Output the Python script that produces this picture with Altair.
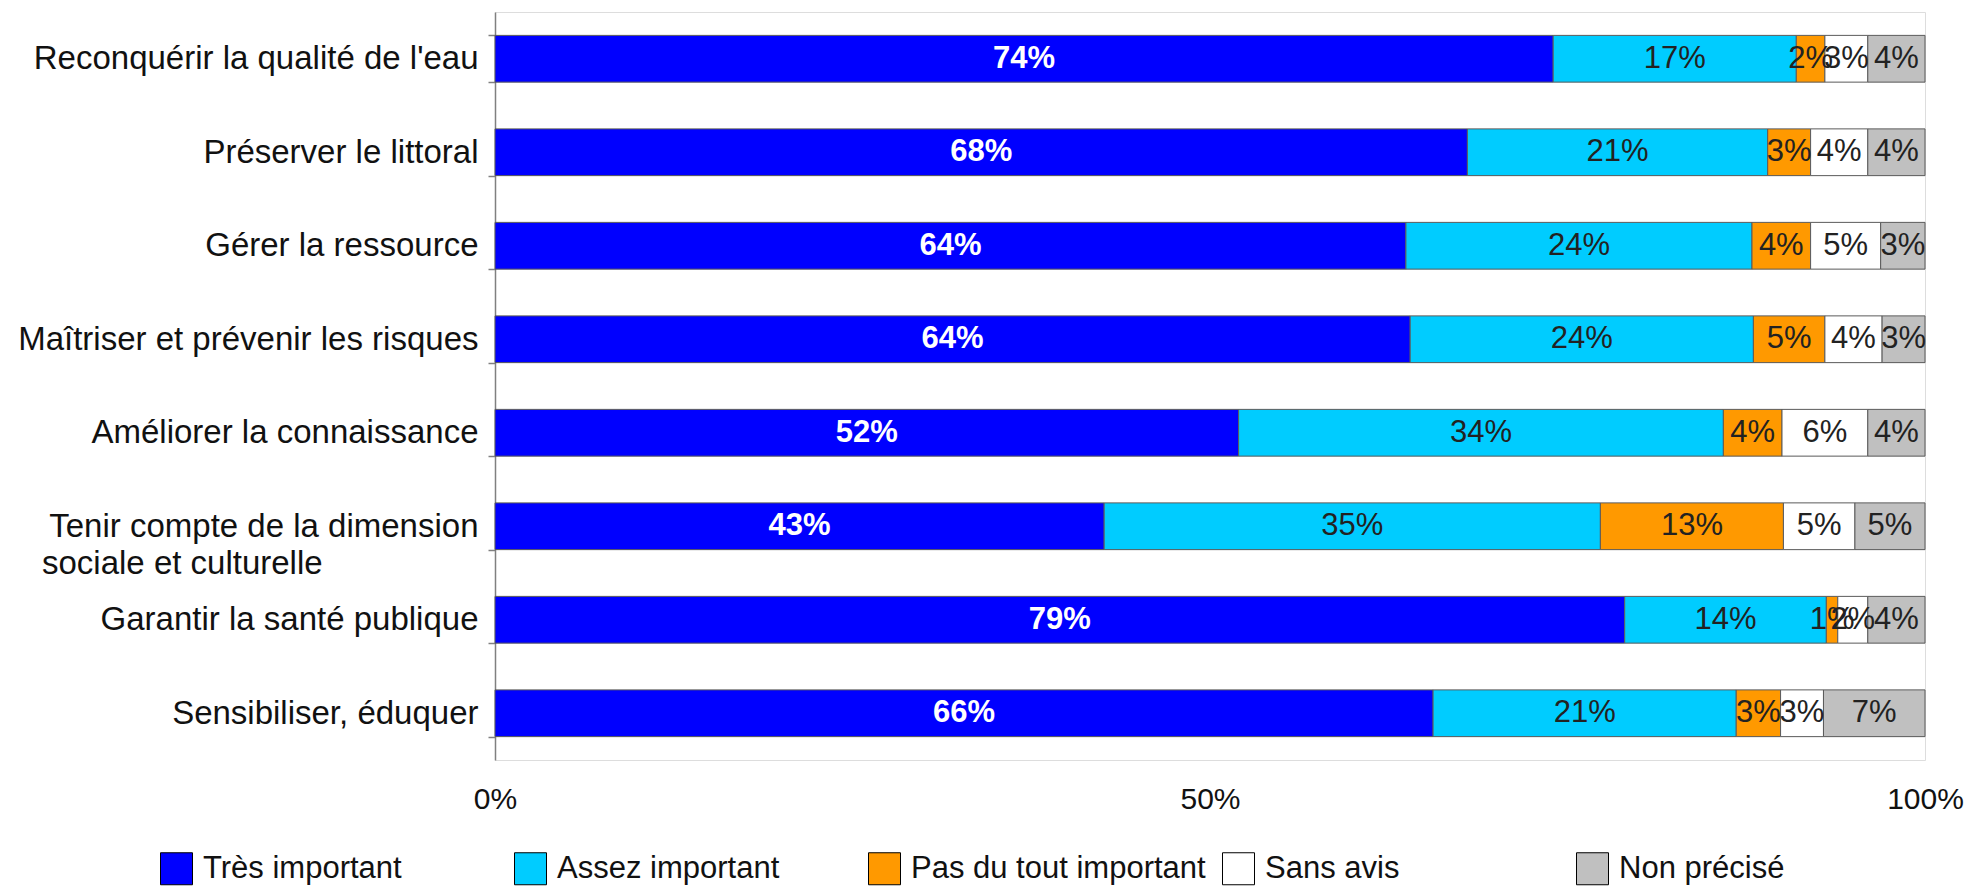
import altair as alt
import pandas as pd

categories = [
    "Reconquérir la qualité de l'eau",
    "Préserver le littoral",
    "Gérer la ressource",
    "Maîtriser et prévenir les risques",
    "Améliorer la connaissance",
    "Tenir compte de la dimension sociale et culturelle",
    "Garantir la santé publique",
    "Sensibiliser, éduquer",
]
series = ["Très important", "Assez important", "Pas du tout important", "Sans avis", "Non précisé"]
colors = ["#0000FF", "#00CCFF", "#FF9900", "#FFFFFF", "#C0C0C0"]

tres_important = [74.0, 68.0, 63.7, 64.0, 52.0, 42.6, 79.0, 65.6]
assez_important = [17.0, 21.0, 24.2, 24.0, 33.9, 34.7, 14.1, 21.2]
pas_du_tout = [2.0, 3.0, 4.1, 5.0, 4.1, 12.8, 0.8, 3.1]
sans_avis = [3.0, 4.0, 4.9, 4.0, 6.0, 5.0, 2.1, 3.0]
non_precise = [4.0, 4.0, 3.1, 3.0, 4.0, 4.9, 4.0, 7.1]

x_ticks = [0, 50, 100]

values_by_series = [tres_important, assez_important, pas_du_tout, sans_avis, non_precise]
rows = []
for si, (s, vals) in enumerate(zip(series, values_by_series)):
    for c, v in zip(categories, vals):
        rows.append({"category": c, "series": s, "order": si, "value": v})
df = pd.DataFrame(rows)

FONT = "Liberation Sans"
NB = "\u00a0"
ZW = "\u200b"
label_expr = (
    "datum.label == 'Tenir compte de la dimension sociale et culturelle' ? "
    "['Tenir compte de la dimension', 'sociale et culturelle" + NB * 17 + ZW + "'] : datum.label"
)

y_enc = alt.Y(
    "category:N",
    sort=categories,
    title=None,
    scale=alt.Scale(paddingInner=0.5, paddingOuter=0.25),
    axis=alt.Axis(
        tickBand="extent",
        domainColor="#808080",
        domainWidth=1.5,
        tickColor="#808080",
        tickWidth=1.5,
        tickSize=7,
        labelPadding=10,
        labelFont=FONT,
        labelFontSize=33,
        labelColor="#111111",
        labelLimit=700,
        labelLineHeight=37,
        labelExpr=label_expr,
    ),
)

x_scale = alt.Scale(domain=[0, 100], nice=False, zero=True)
x_axis = alt.Axis(
    values=x_ticks,
    labelExpr="datum.value + '%'",
    grid=False,
    domain=False,
    ticks=False,
    labelPadding=24,
    labelFont=FONT,
    labelFontSize=30,
    labelColor="#111111",
    labelFlush=False,
)

base = alt.Chart(df).transform_stack(
    stack="value",
    groupby=["category"],
    as_=["x0", "x1"],
    sort=[alt.SortField("order", "ascending")],
).transform_calculate(
    mid="(datum.x0 + datum.x1) / 2",
    label="format(datum.value, '.0f') + '%'",
)

bars = base.mark_bar(stroke="#5a5a5a", strokeWidth=1).encode(
    x=alt.X("x0:Q", scale=x_scale, axis=x_axis, title=None),
    x2="x1:Q",
    y=y_enc,
    color=alt.Color(
        "series:N",
        scale=alt.Scale(domain=series, range=colors),
        legend=alt.Legend(
            title=None,
            orient="none",
            legendX=-335,
            legendY=840,
            direction="horizontal",
            columns=5,
            gridAlign="all",
            columnPadding=14,
            symbolType="square",
            symbolSize=1024,
            symbolStrokeColor="#000000",
            symbolStrokeWidth=1,
            labelFont=FONT,
            labelFontSize=31,
            labelOffset=10,
            labelLimit=500,
            labelColor="#111111",
        ),
    ),
)

text_first = base.transform_filter(alt.datum.order == 0).mark_text(
    font=FONT, fontSize=31, fontWeight="bold", color="#FFFFFF", align="center", baseline="middle"
).encode(
    x=alt.X("mid:Q", scale=x_scale, axis=x_axis, title=None),
    y=y_enc,
    text="label:N",
)

text_rest = base.transform_filter(alt.datum.order > 0).mark_text(
    font=FONT, fontSize=31, color="#222222", align="center", baseline="middle"
).encode(
    x=alt.X("mid:Q", scale=x_scale, axis=x_axis, title=None),
    y=y_enc,
    text="label:N",
)

chart = alt.layer(bars, text_first, text_rest).properties(
    width=1430,
    height=748,
    padding={"left": 487, "top": 4, "right": 45, "bottom": 130},
    autosize=alt.AutoSizeParams(type="none"),
).configure_view(stroke=None).configure(background="white")

chart.save("out.html", embed_options={"renderer": "svg", "actions": False})
